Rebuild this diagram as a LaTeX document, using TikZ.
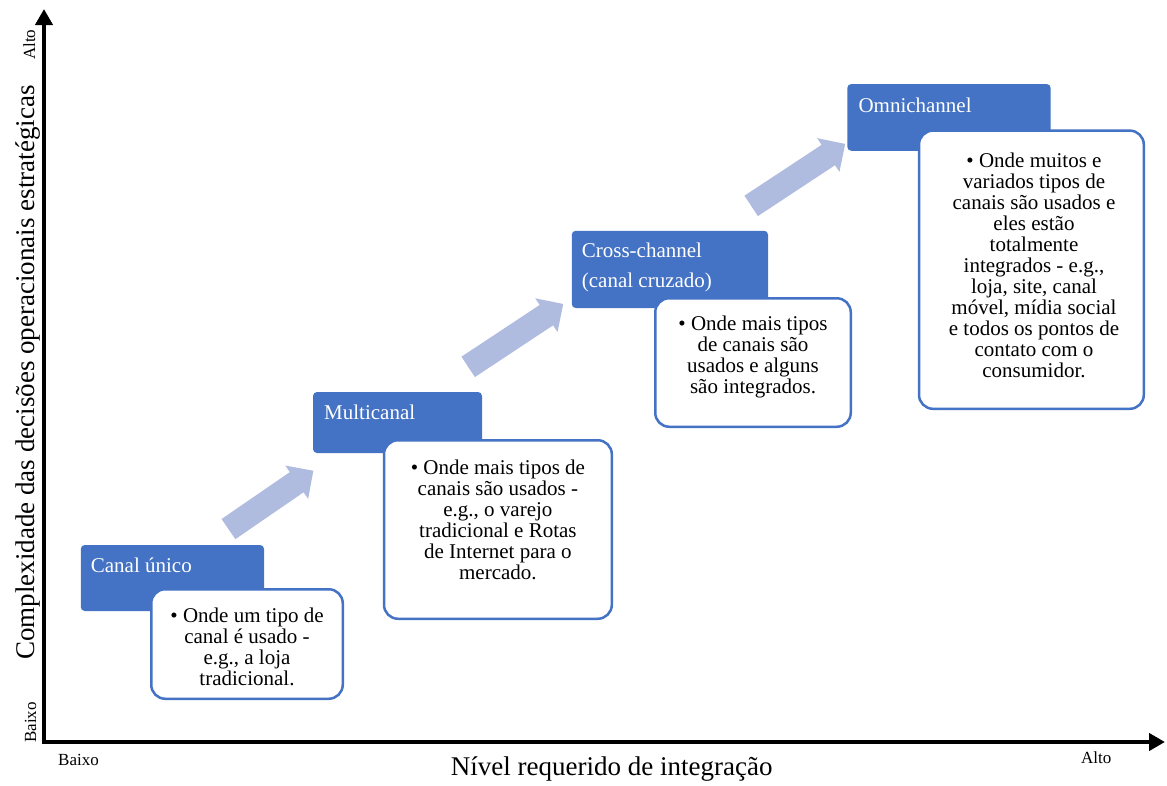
\documentclass[tikz,border=0pt]{standalone}
\usepackage{fontspec}
\setmainfont{Liberation Serif}
\usetikzlibrary{arrows.meta,shapes.arrows}
\definecolor{azul}{HTML}{4472C4}
\definecolor{azulclaro}{HTML}{AFBCE0}
\tikzset{
  cabeca/.style={fill=azul, rounded corners=4pt, inner sep=0pt},
  caixa/.style={draw=azul, line width=2.5pt, fill=white, rounded corners=14pt, inner sep=0pt},
  titulo/.style={text=white, font=\fontsize{21}{29.4}\selectfont, align=left, anchor=north west, inner sep=0pt},
  texto/.style={font=\fontsize{21}{21}\selectfont, align=center, inner sep=0pt},
  seta/.style={single arrow, fill=azulclaro, anchor=tail, inner xsep=0pt, inner ysep=12pt, single arrow head extend=8pt},
  eixo/.style={line width=4.5pt, {Triangle[length=16pt,width=17pt]}-{Triangle[length=16pt,width=17pt]}},
  rotulo/.style={font=\fontsize{17}{17}\selectfont, inner sep=0pt, anchor=base west}
}

\begin{document}
\begin{tikzpicture}[x=1pt,y=-1pt]
	%%%%% START %%%%%
	\useasboundingbox (0,0) rectangle (1167,785);
	
	% eixos
	\draw[eixo] (44,9) -- (44,742) -- (1165,742);
	\node[rotulo, rotate=90] (yalto) at (35,60) {Alto};
	\node[rotulo, rotate=90] (ybaixo) at (36,743) {Baixo};
	\node[rotulo] (xbaixo) at (58,765) {Baixo};
	\node[rotulo] (xalto) at (1081,763.5) {Alto};
	\node[font=\fontsize{27}{27}\selectfont, inner sep=0pt, anchor=base west] (xtit) at (450.7,775) {Nível requerido de integração};
	\node[font=\fontsize{27}{27}\selectfont, inner sep=0pt, anchor=base west, rotate=90] (ytit) at (34,660) {Complexidade das decisões operacionais estratégicas};
	
	% setas
	\node[seta, rotate=34.5, minimum height=103pt] (s1) at (228.3,529.2) {};
	\node[seta, rotate=33.5, minimum height=114pt] (s2) at (468,367) {};
	\node[seta, rotate=33.4, minimum height=112.6pt] (s3) at (751,206) {};
	
	% canal unico
	\node[cabeca, minimum width=183.3pt, minimum height=66pt] (c1) at (172.4,578) {};
	\node[caixa, minimum width=191.5pt, minimum height=109.5pt] (b1) at (247,644) {};
	\node[titulo] (h1) at (90.7,557.4) {Canal único};
	\node[texto] (t1) at (247,646.7) {\textbullet{} Onde um tipo de\\ canal é usado -\\ e.g., a loja\\ tradicional.};
	
	% multicanal
	\node[cabeca, minimum width=169pt, minimum height=61pt] (c2) at (397.5,422.5) {};
	\node[caixa, minimum width=227.8pt, minimum height=178.5pt] (b2) at (497.9,529.5) {};
	\node[titulo] (h2) at (324,404.7) {Multicanal};
	\node[texto] (t2) at (497.9,520) {\textbullet{} Onde mais tipos de\\ canais são usados -\\ e.g., o varejo\\ tradicional e Rotas\\ de Internet para o\\ mercado.};
	
	% cross-channel
	\node[cabeca, minimum width=196.3pt, minimum height=77.3pt] (c3) at (669.9,269.4) {};
	\node[caixa, minimum width=195.5pt, minimum height=128.5pt] (b3) at (753,362.5) {};
	\node[titulo] (h3) at (581.7,243) {Cross-channel\\ (canal cruzado)};
	\node[texto] (t3) at (753,356.7) {\textbullet{} Onde mais tipos\\ de canais são\\ usados e alguns\\ são integrados.};
	
	% omnichannel
	\node[cabeca, minimum width=203.4pt, minimum height=66.7pt] (c4) at (949,117.4) {};
	\node[caixa, minimum width=224.8pt, minimum height=278.2pt] (b4) at (1031.4,269.7) {};
	\node[titulo] (h4) at (858.3,97.4) {Omnichannel};
	\node[texto] (t4) at (1034,265.3) {\textbullet{} Onde muitos e\\ variados tipos de\\ canais são usados e\\ eles estão\\ totalmente\\ integrados - e.g.,\\ loja, site, canal\\ móvel, mídia social\\ e todos os pontos de\\ contato com o\\ consumidor.};
	%%%%% END %%%%%
\end{tikzpicture}
\end{document}
